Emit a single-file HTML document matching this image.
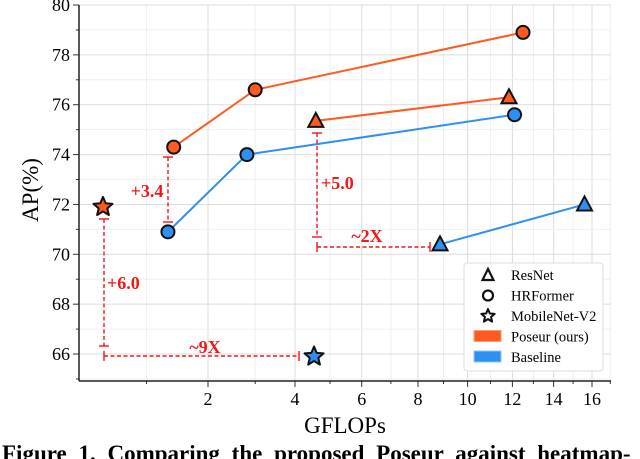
<!DOCTYPE html>
<html><head><meta charset="utf-8"><style>
body{margin:0;background:#fff;width:640px;height:459px;overflow:hidden}
svg{display:block;font-family:"Liberation Serif",serif}
</style></head><body>
<svg id="c" width="640" height="459"></svg>
<script>
const xTicks=[2,4,6,8,10,12,14,16];
const yTicks=[66,68,70,72,74,76,78,80];
const poseurHR_x=[1.40,3.0,12.5], poseurHR_y=[74.3,76.6,78.9];
const poseurRes_x=[4.58,11.84], poseurRes_y=[75.35,76.3];
const baseHR_x=[1.31,2.81,12.1], baseHR_y=[70.9,74.0,75.6];
const baseRes_x=[8.86,15.6], baseRes_y=[70.4,72.0];
const mobile_x=[0.5,4.53], mobile_y=[71.9,65.9];
const ORANGE='#ff5a1f', BLUE='#2e90f0', RED='#f01818';
const NS='http://www.w3.org/2000/svg', svg=document.getElementById('c');
const X=v=>208+(Math.sqrt(v)-Math.SQRT2)*148.5;
const Y=v=>5+(80-v)*24.93;
const L=79,R=611,T=5,B=381;
function mk(t,a,p){const e=document.createElementNS(NS,t);for(const k in a)e.setAttribute(k,a[k]);(p||svg).appendChild(e);return e;}
for(let v=1;v<=17;v++){const g=mk('line',{x1:X(v),x2:X(v),y1:T,y2:B,stroke:v%2?'#efefef':'#dcdcdc','stroke-width':1});

mk('line',{x1:X(v),x2:X(v),y1:B,y2:B+(v%2?3:6),stroke:'#333'});}
for(let v=65;v<=80;v++){const g=mk('line',{x1:L,x2:R,y1:Y(v),y2:Y(v),stroke:v%2?'#efefef':'#dcdcdc'});

mk('line',{x1:L,x2:L-(v%2?3:6),y1:Y(v),y2:Y(v),stroke:'#333'});}
mk('line',{x1:L,x2:L,y1:T,y2:B,stroke:'#222','stroke-width':1.5});
mk('line',{x1:L,x2:R,y1:B,y2:B,stroke:'#222','stroke-width':1.5});
xTicks.forEach(v=>{const t=mk('text',{x:X(v),y:B+24,'text-anchor':'middle','font-size':18});t.textContent=v;
});
yTicks.forEach(v=>{const t=mk('text',{x:70,y:Y(v)+6,'text-anchor':'end','font-size':18});t.textContent=v;
});
let t=mk('text',{x:345,y:433,'text-anchor':'middle','font-size':23});t.textContent='GFLOPs';

t=mk('text',{x:0,y:0,'text-anchor':'middle','font-size':23,transform:'translate(38,190) rotate(-90)'});t.textContent='AP(%)';

function vbr(x,y1,y2){mk('line',{x1:x,x2:x,y1:y1,y2:y2,stroke:RED,'stroke-width':1.4,'stroke-dasharray':'4,2.5'});
[y1,y2].forEach(y=>mk('line',{x1:x-5,x2:x+5,y1:y,y2:y,stroke:RED,'stroke-width':1.4}));}
function hbr(y,x1,x2){mk('line',{x1:x1,x2:x2,y1:y,y2:y,stroke:RED,'stroke-width':1.4,'stroke-dasharray':'4,2.5'});
[x1,x2].forEach(x=>mk('line',{x1:x,x2:x,y1:y-5,y2:y+5,stroke:RED,'stroke-width':1.4}));}
function lab(s,x,y,a,n){const e=mk('text',{x:x,y:y,'text-anchor':a,'font-size':18,'font-weight':'bold',fill:RED});e.textContent=s;
}
vbr(168,157,222);lab('+3.4',147,197,'middle','gain-3-4-label');
vbr(317,133,237);lab('+5.0',321,189,'start','gain-5-0-label');
hbr(247,317,430);lab('~2X',367,242,'middle','speedup-2x-label');
vbr(104,219,346);lab('+6.0',107,289,'start','gain-6-0-label');
hbr(356,104,299);lab('~9X',205,353,'middle','speedup-9x-label');
function line(xs,ys,c,n){const p=mk('polyline',{points:xs.map((x,i)=>X(x)+','+Y(ys[i])).join(' '),fill:'none',stroke:c,'stroke-width':2});
}
function circ(x,y,c){const e=mk('circle',{cx:X(x),cy:Y(y),r:6.5,fill:c,stroke:'#111','stroke-width':2});
}
function tri(x,y,c){const cx=X(x),cy=Y(y);const e=mk('polygon',{points:`${cx},${cy-8} ${cx-7.5},${cy+6} ${cx+7.5},${cy+6}`,fill:c,stroke:'#111','stroke-width':2});
}
function star(cx,cy,c,r,p){let pts=[];for(let i=0;i<10;i++){const a=-Math.PI/2+i*Math.PI/5,rr=i%2?r*0.45:r;pts.push((cx+rr*Math.cos(a))+','+(cy+rr*Math.sin(a)));}
return mk('polygon',{points:pts.join(' '),fill:c,stroke:'#111','stroke-width':2,'stroke-linejoin':'round'},p);}
line(poseurHR_x,poseurHR_y,ORANGE,'poseur-hrformer-line');line(poseurRes_x,poseurRes_y,ORANGE,'poseur-resnet-line');
line(baseHR_x,baseHR_y,BLUE,'baseline-hrformer-line');line(baseRes_x,baseRes_y,BLUE,'baseline-resnet-line');
poseurHR_x.forEach((x,i)=>circ(x,poseurHR_y[i],ORANGE));baseHR_x.forEach((x,i)=>circ(x,baseHR_y[i],BLUE));
poseurRes_x.forEach((x,i)=>tri(x,poseurRes_y[i],ORANGE));baseRes_x.forEach((x,i)=>tri(x,baseRes_y[i],BLUE));
mobile_x.forEach((x,i)=>{const e=star(X(x),Y(mobile_y[i]),i?BLUE:ORANGE,10);
});
const lg=mk('g',{});
mk('rect',{x:464,y:263,width:139,height:108,rx:3,fill:'#fff',stroke:'#ddd'},lg);
const items=[['ResNet','tri'],['HRFormer','circ'],['MobileNet-V2','star'],['Poseur (ours)',ORANGE],['Baseline',BLUE]];
items.forEach((it,i)=>{const y=275+i*20.5;const g=mk('g',{},lg);

if(it[1]=='tri')mk('polygon',{points:`488,${y-6} 482.5,${y+5} 493.5,${y+5}`,fill:'#fff',stroke:'#111','stroke-width':2.2},g);
else if(it[1]=='circ')mk('circle',{cx:488,cy:y,r:5,fill:'#fff',stroke:'#111','stroke-width':2.2},g);
else if(it[1]=='star')star(488,y,'#fff',7,g);
else mk('rect',{x:474,y:y-6,width:27,height:11,fill:it[1],stroke:it[1]==BLUE?'#8cc4ff':'#ff9a78','stroke-width':1},g);
const e=mk('text',{x:511,y:y+5,'font-size':14.5},g);e.textContent=it[0];});
t=mk('text',{x:2,y:461,'font-size':23,'font-weight':'bold','word-spacing':6});t.textContent='Figure 1. Comparing the proposed Poseur against heatmap-';

</script>
</body></html>
